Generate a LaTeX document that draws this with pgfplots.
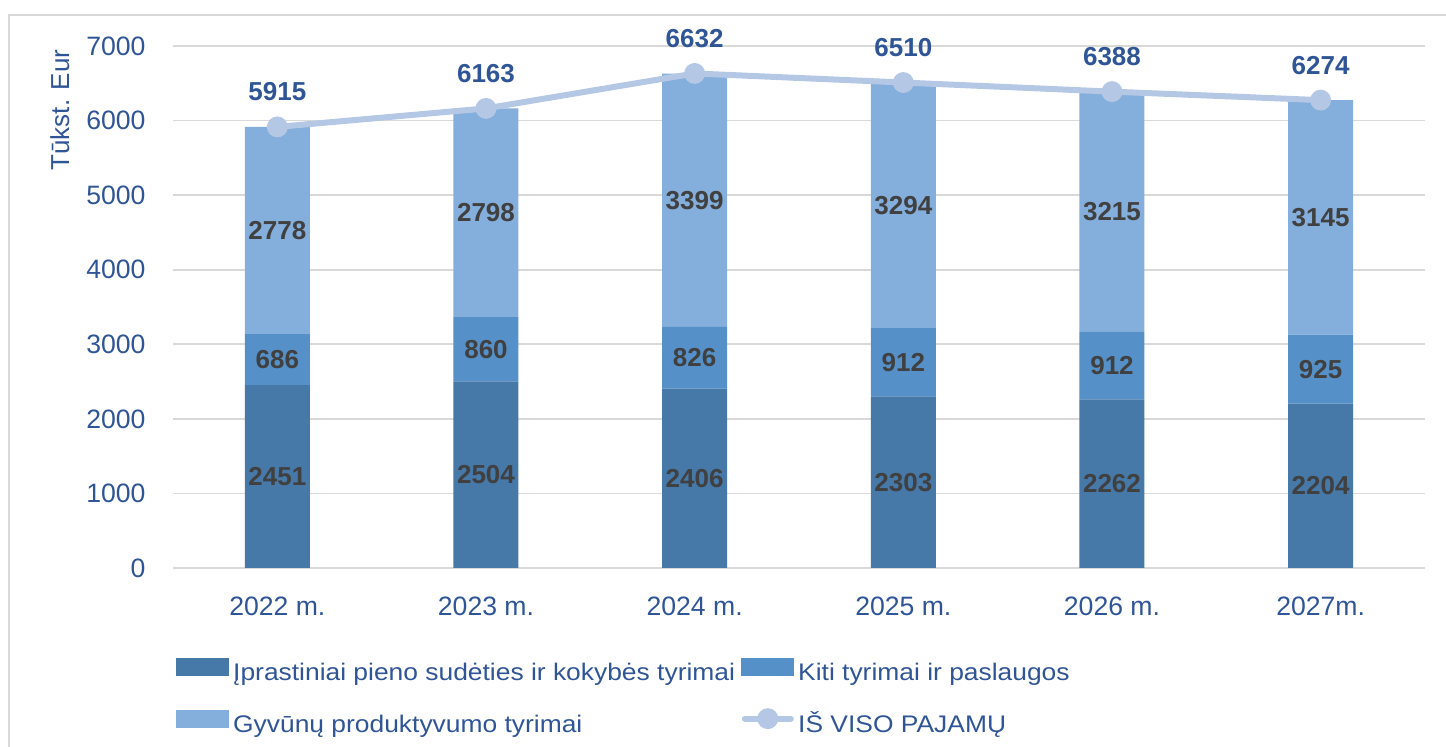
\documentclass[border=0pt]{standalone}
\usepackage{pgfplots}
\pgfplotsset{compat=1.18}
\usepackage{pgfplotstable}
\usepackage{fontspec}
\setmainfont{Liberation Sans}
\newfontfamily\legfont{Liberation Sans}[FakeStretch=1.10]
\definecolor{cA}{HTML}{4678A8}
\definecolor{cB}{HTML}{5591C8}
\definecolor{cC}{HTML}{84AEDB}
\definecolor{cL}{HTML}{B4C8E6}
\definecolor{tblue}{HTML}{2F5597}
\definecolor{lab}{HTML}{404040}
\definecolor{grd}{HTML}{D9D9D9}
\pgfplotstableread{
x a b c t
0 2451 686 2778 5915
1 2504 860 2798 6163
2 2406 826 3399 6632
3 2303 912 3294 6510
4 2262 912 3215 6388
5 2204 925 3145 6274
}\data
\begin{document}
\begin{tikzpicture}
\useasboundingbox (-86.5pt,-89.5pt) rectangle (636.5pt,284pt);
\draw[grd, line width=1pt] (-82pt,-200pt) -- (-82pt,276.5pt) -- (800pt,276.5pt);
\pgfplotsset{common/.style={
  at={(0,0)}, anchor=south west, scale only axis,
  width=626pt, height=261pt,
  xmin=-0.5, xmax=5.5, ymin=0, ymax=7000,
  /pgf/number format/assume math mode=true,
  /pgf/number format/1000 sep={},
  scaled y ticks=false,
}}
\begin{axis}[common,
  ybar stacked, bar width=32.5pt,
  axis x line*=bottom, axis y line*=left,
  y axis line style={draw=none},
  x axis line style={grd, line width=0.9pt},
  major tick length=0pt,
  ytick={0,1000,...,7000},
  xtick={0,1,2,3,4,5},
  xticklabels={2022 m.,2023 m.,2024 m.,2025 m.,2026 m.,2027m.},
  ymajorgrids, grid style={grd, line width=0.9pt},
  tick label style={font=\fontsize{13.3pt}{15pt}\selectfont, text=tblue},
  xticklabel style={yshift=-11pt},
  yticklabel style={xshift=-10.2pt},
  ylabel={Tūkst. Eur},
  every axis y label/.style={at={(rel axis cs:-0.0903,0.8774)}, anchor=center, rotate=90,
     font=\fontsize{13pt}{15pt}\selectfont, text=tblue},
]
\addplot[fill=cA, draw=none] table[x=x,y=a]{\data};
\addplot[fill=cB, draw=none] table[x=x,y=b]{\data};
\addplot[fill=cC, draw=none] table[x=x,y=c]{\data};
\end{axis}
\begin{axis}[common, hide axis,
  legend columns=2,
  legend style={at={(axis description cs:0,0)}, anchor=west, xshift=1.5pt, yshift=-65pt,
    draw=none, fill=none, inner sep=0pt,
    font=\legfont\fontsize{12pt}{14pt}\selectfont, text=tblue,
    row sep=11pt,
    nodes={inner sep=0pt, text height=9pt, text depth=3pt},
    /tikz/every odd column/.style={column sep=2pt},
    /tikz/every even column/.style={column sep=3.2pt}},
  legend cell align=left,
]
\addplot[forget plot, draw=none, mark=none, nodes near coords, point meta=explicit symbolic,
  every node near coord/.append style={anchor=center, font=\bfseries\fontsize{13pt}{15pt}\selectfont, text=lab}]
  table[x=x, y expr=\thisrow{a}/2, meta=a]{\data};
\addplot[forget plot, draw=none, mark=none, nodes near coords, point meta=explicit symbolic,
  every node near coord/.append style={anchor=center, font=\bfseries\fontsize{13pt}{15pt}\selectfont, text=lab}]
  table[x=x, y expr=\thisrow{a}+\thisrow{b}/2, meta=b]{\data};
\addplot[forget plot, draw=none, mark=none, nodes near coords, point meta=explicit symbolic,
  every node near coord/.append style={anchor=center, font=\bfseries\fontsize{13pt}{15pt}\selectfont, text=lab}]
  table[x=x, y expr=\thisrow{a}+\thisrow{b}+\thisrow{c}/2, meta=c]{\data};
\addlegendimage{legend image code/.code={\fill[cA] (0pt,-0.5pt) rectangle (26pt,8pt);}}
\addlegendentry{Įprastiniai pieno sudėties ir kokybės tyrimai}
\addlegendimage{legend image code/.code={\fill[cB] (0pt,-0.5pt) rectangle (26pt,8pt);}}
\addlegendentry{Kiti tyrimai ir paslaugos}
\addlegendimage{legend image code/.code={\fill[cC] (0pt,-0.5pt) rectangle (26pt,8pt);}}
\addlegendentry{Gyvūnų produktyvumo tyrimai}
\addplot[cL, line width=3pt, mark=*, mark size=3.7pt, mark options={fill=cL, draw=cL},
  nodes near coords, point meta=explicit symbolic,
  every node near coord/.append style={anchor=center, yshift=17.5pt, font=\bfseries\fontsize{13pt}{15pt}\selectfont, text=tblue},
  legend image code/.code={\draw[cL, line width=3pt, line cap=round] (1.5pt,3.75pt) -- (24.5pt,3.75pt); \fill[cL] (13pt,3.75pt) circle (3.7pt);}]
  table[x=x, y=t, meta=t]{\data};
\addlegendentry{IŠ VISO PAJAMŲ}
\end{axis}
\end{tikzpicture}
\end{document}
